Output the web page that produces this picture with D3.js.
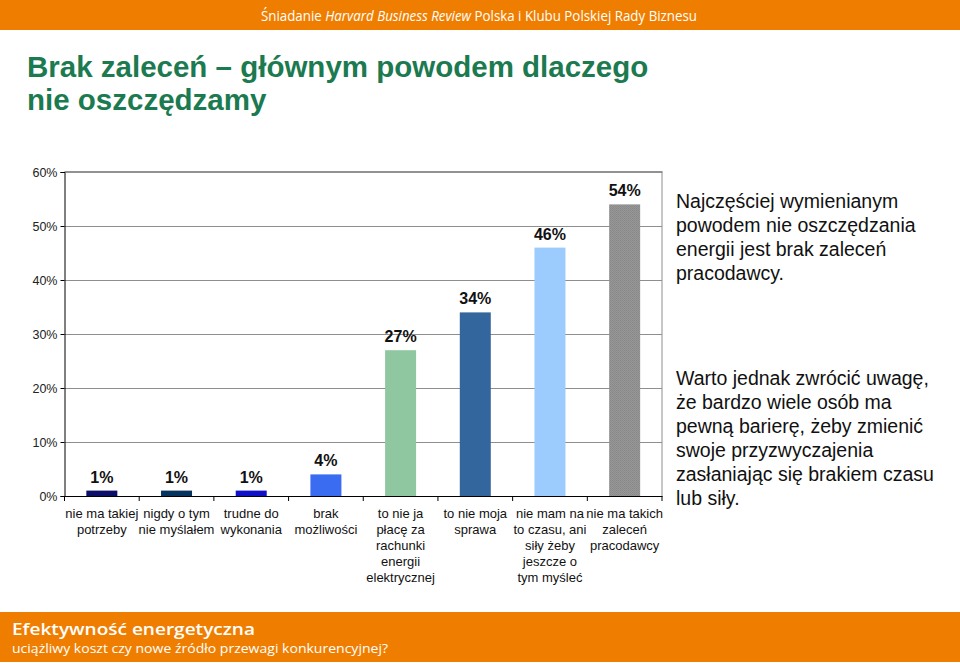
<!DOCTYPE html>
<html><head><meta charset="utf-8">
<script src="https://cdn.jsdelivr.net/npm/d3@7"></script>
<style>
html,body{margin:0;padding:0;background:#fff;}
svg{display:block;font-family:"Liberation Sans",Arial,sans-serif;}
</style></head><body>
<svg id="c" width="960" height="664"></svg>
<script>
const categories = [
  ["nie ma takiej","potrzeby"],
  ["nigdy o tym","nie myślałem"],
  ["trudne do","wykonania"],
  ["brak","możliwości"],
  ["to nie ja","płacę za","rachunki","energii","elektrycznej"],
  ["to nie moja","sprawa"],
  ["nie mam na","to czasu, ani","siły żeby","jeszcze o","tym myśleć"],
  ["nie ma takich","zaleceń","pracodawcy"]
];
const values = [1, 1, 1, 4, 27, 34, 46, 54];
const barColors = ["#0b0f68","#07335f","#1010c8","#3a6cf2","#8fc8a0","#33669c","#9ccbfd","url(#grayPat)"];
const yTicks = [0,10,20,30,40,50,60];
const titleLines = ["Brak zaleceń – głównym powodem dlaczego","nie oszczędzamy"];
const note1 = ["Najczęściej wymienianym","powodem nie oszczędzania","energii jest brak zaleceń","pracodawcy."];
const note2 = ["Warto jednak zwrócić uwagę,","że bardzo wiele osób ma","pewną barierę, żeby zmienić","swoje przyzwyczajenia","zasłaniając się brakiem czasu","lub siły."];
const footer1 = "Efektywność energetyczna";
const footer2 = "uciążliwy koszt czy nowe źródło przewagi konkurencyjnej?";

const svg = d3.select("#c");
const defs = svg.append("defs");
const pat = defs.append("pattern").attr("id","grayPat").attr("width",2).attr("height",2).attr("patternUnits","userSpaceOnUse");
pat.append("rect").attr("width",2).attr("height",2).attr("fill","#979797");
pat.append("rect").attr("width",1).attr("height",1).attr("fill","#888888");
pat.append("rect").attr("x",1).attr("y",1).attr("width",1).attr("height",1).attr("fill","#8c8c8c");

// header band
svg.append("rect").attr("x",0).attr("y",0).attr("width",960).attr("height",30).attr("fill","#ef7e00");
const ht = svg.append("text").attr("x",479).attr("y",21).attr("text-anchor","middle")
  .attr("fill","#fff").style("font-family","'Open Sans',sans-serif").style("font-size","14.5px")
  .attr("textLength",436).attr("lengthAdjust","spacingAndGlyphs");
ht.append("tspan").text("Śniadanie ");
ht.append("tspan").style("font-style","italic").text("Harvard Business Review");
ht.append("tspan").text(" Polska i Klubu Polskiej Rady Biznesu");

// footer band
svg.append("rect").attr("x",0).attr("y",612).attr("width",960).attr("height",50).attr("fill","#ef7e00");
svg.append("text").attr("x",12).attr("y",635).attr("fill","#fff")
  .style("font-family","'Open Sans',sans-serif").style("font-size","17px").style("font-weight","600")
  .attr("textLength",243).attr("lengthAdjust","spacingAndGlyphs").text(footer1);
svg.append("text").attr("x",12).attr("y",653).attr("fill","#fff")
  .style("font-family","'Open Sans',sans-serif").style("font-size","12.5px")
  .attr("textLength",376).attr("lengthAdjust","spacingAndGlyphs").text(footer2);

// title
svg.selectAll("text.title").data(titleLines).join("text").attr("class","title")
  .attr("x",27).attr("y",(d,i)=>77+i*33)
  .attr("fill","#1c7a50").style("font-size","29.5px").style("font-weight","bold").text(d=>d);

// scales
const x = d3.scaleBand().domain(d3.range(categories.length)).range([64.5,662]).paddingInner(0.585).paddingOuter(0.2925);
const xb = d3.scaleBand().domain(d3.range(categories.length)).range([64.5,662]).padding(0);
const y = d3.scaleLinear().domain([0,60]).range([496,172]);

// gridlines
svg.append("g").selectAll("line").data(yTicks.filter(t=>t>0&&t<60)).join("line")
  .attr("x1",64.5).attr("x2",662).attr("y1",d=>y(d)+0.5).attr("y2",d=>y(d)+0.5)
  .attr("stroke","#8e8e8e").attr("stroke-width",1);
svg.append("line").attr("x1",64.5).attr("x2",662.5).attr("y1",y(60)).attr("y2",y(60)).attr("stroke","#6e6e6e").attr("stroke-width",1.6);
svg.append("line").attr("x1",662).attr("x2",662).attr("y1",y(60)).attr("y2",y(0)).attr("stroke","#8e8e8e").attr("stroke-width",1);

// bars
svg.append("g").selectAll("rect").data(values).join("rect")
  .attr("x",(d,i)=>x(i)).attr("width",x.bandwidth())
  .attr("y",d=>y(d)).attr("height",d=>y(0)-y(d))
  .attr("fill",(d,i)=>barColors[i]);

// value labels
svg.append("g").selectAll("text").data(values).join("text")
  .attr("x",(d,i)=>x(i)+x.bandwidth()/2).attr("y",d=>y(d)-8)
  .attr("text-anchor","middle").style("font-size","16px").style("font-weight","bold").attr("fill","#111")
  .text(d=>d+"%");

// y axis
const yAxis = d3.axisLeft(y).tickValues(yTicks).tickFormat(d=>d+"%").tickSize(4).tickPadding(3);
const gy = svg.append("g").attr("transform","translate(64.5,0)").call(yAxis);
gy.select(".domain").attr("stroke","#000");
gy.selectAll(".tick line").attr("stroke","#000");
gy.selectAll("text").style("font-size","12.5px").style("font-family","'Liberation Sans',Arial,sans-serif").attr("fill","#222");

// x axis line and boundary ticks
svg.append("line").attr("x1",64).attr("x2",662.5).attr("y1",496.5).attr("y2",496.5).attr("stroke","#000");
const bounds = d3.range(categories.length).map(i=>xb(i)).concat([xb.range()[1]]);
svg.append("g").selectAll("line").data(bounds).join("line")
  .attr("x1",d=>d).attr("x2",d=>d).attr("y1",496).attr("y2",501).attr("stroke","#000");

// category labels
const cl = svg.append("g").selectAll("text").data(categories).join("text")
  .attr("text-anchor","middle").style("font-size","13px").attr("fill","#111");
cl.each(function(lines,i){
  d3.select(this).selectAll("tspan").data(lines).join("tspan")
    .attr("x",x(i)+x.bandwidth()/2).attr("y",(d,j)=>518+j*16).text(d=>d);
});

// notes
svg.append("g").selectAll("text").data(note1).join("text")
  .attr("x",676).attr("y",(d,i)=>208+i*24).style("font-size","19.5px").attr("fill","#111").text(d=>d);
svg.append("g").selectAll("text").data(note2).join("text")
  .attr("x",676).attr("y",(d,i)=>385+i*24).style("font-size","19.5px").attr("fill","#111").text(d=>d);
</script>
</body></html>
